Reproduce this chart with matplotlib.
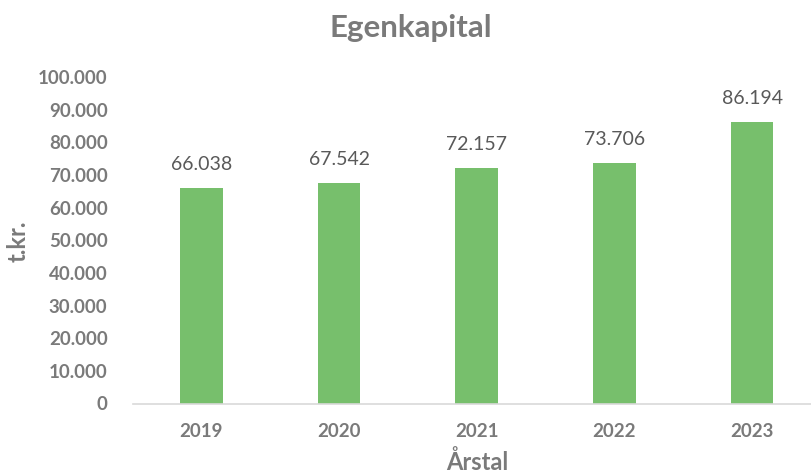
import matplotlib
matplotlib.use("Agg")
import matplotlib.pyplot as plt
from matplotlib.ticker import FuncFormatter

years = ["2019", "2020", "2021", "2022", "2023"]
equity = [66038, 67542, 72157, 73706, 86194]
yticks = [0, 10000, 20000, 30000, 40000, 50000, 60000, 70000, 80000, 90000, 100000]

BAR = "#77bf6c"
AXIS_TXT = "#7a7a7a"
LABEL_TXT = "#595959"

plt.rcParams["font.family"] = ["Lato", "DejaVu Sans"]

def dk(v):
    # danish thousands separator
    return f"{int(v):,}".replace(",", ".")

fig = plt.figure(figsize=(8.11, 4.76), dpi=100)
ax = fig.add_axes([132.5 / 811, 1 - 403.5 / 476, 1 - 132.5 / 811, (403.5 - 77) / 476])

x = range(len(years))
ax.bar(x, equity, width=0.31, color=BAR, zorder=2)
for xi, v in zip(x, equity):
    ax.text(xi, v + 4700, dk(v), ha="center", va="bottom", fontsize=14, color=LABEL_TXT)

ax.set_xlim(-0.5, -0.5 + (811 - 132.5) / 137.7)
ax.set_ylim(0, 100000)
ax.set_yticks(yticks)
ax.yaxis.set_major_formatter(FuncFormatter(lambda v, p: dk(v)))
ax.set_xticks(list(x))
ax.set_xticklabels(years)

for s in ["top", "right", "left"]:
    ax.spines[s].set_visible(False)
ax.spines["bottom"].set_color("#d9d9d9")
ax.spines["bottom"].set_linewidth(1.2)
ax.tick_params(axis="both", length=0, labelcolor=AXIS_TXT, labelsize=13.5)
ax.tick_params(axis="y", pad=18)
ax.tick_params(axis="x", pad=14)
for lab in ax.get_xticklabels() + ax.get_yticklabels():
    lab.set_fontweight("bold")

fig.text(411 / 811, 1 - 28 / 476, "Egenkapital", ha="center", va="center",
         fontsize=22.5, fontweight="bold", color=AXIS_TXT)
fig.text(477 / 811, 1 - 462 / 476, "Årstal", ha="center", va="center",
         fontsize=17, fontweight="bold", color=AXIS_TXT)
fig.text(18 / 811, 1 - 241 / 476, "t.kr.", ha="center", va="center", rotation=90,
         fontsize=17, fontweight="bold", color=AXIS_TXT)

fig.savefig("out.png", dpi=100)
